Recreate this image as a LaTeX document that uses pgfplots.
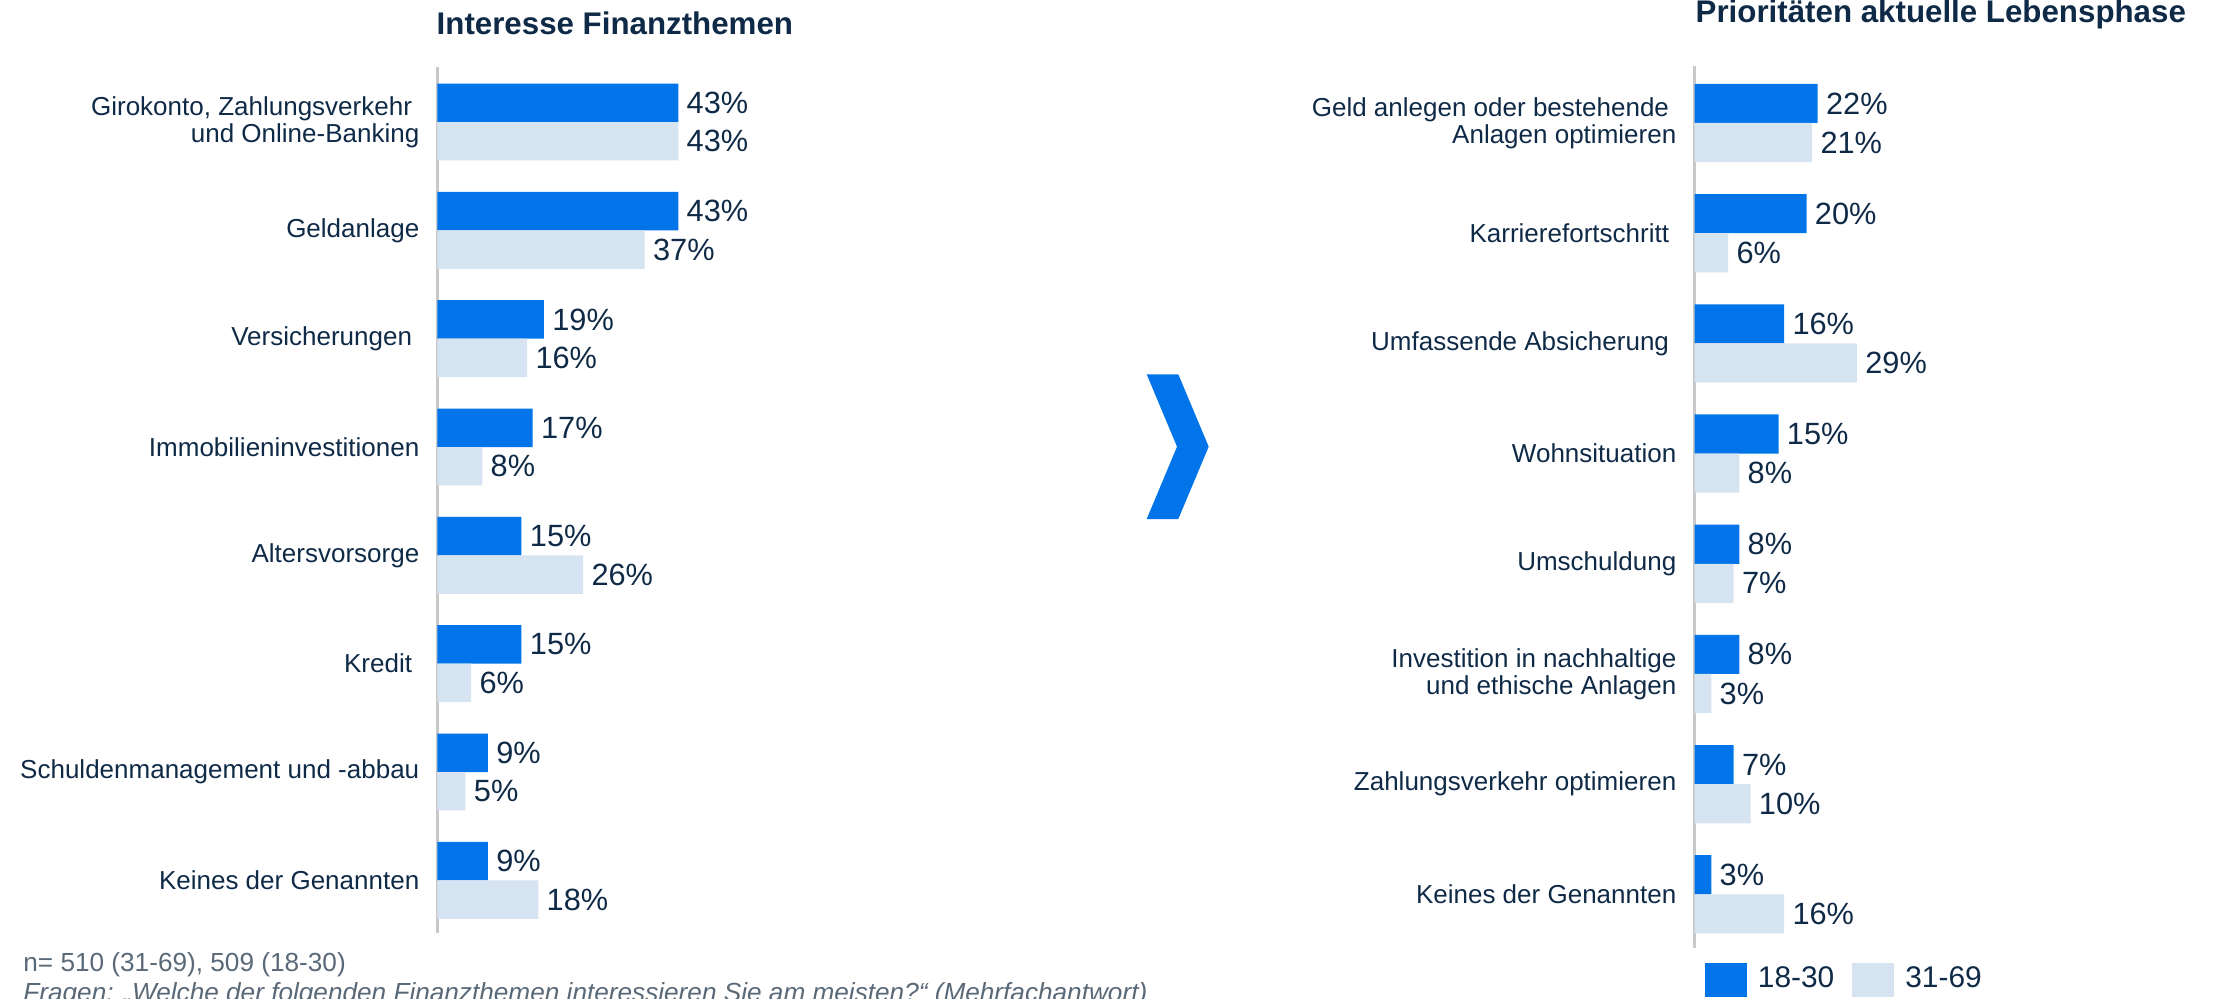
\documentclass[border=0pt]{standalone}
\usepackage{fontspec}
\setmainfont{Liberation Sans}
\usepackage{pgfplots}
\usepackage{pgfplotstable}
\pgfplotsset{compat=1.18}
\definecolor{cblue}{HTML}{0074E8}
\definecolor{clight}{HTML}{D6E3F0}
\definecolor{cnavy}{HTML}{0F2A47}
\definecolor{cgray}{HTML}{5A6978}
\definecolor{caxis}{HTML}{C8C8C8}

\pgfplotstableread{
idx a b
0 43 43
1 43 37
2 19 16
3 17 8
4 15 26
5 15 6
6 9 5
7 9 18
}\tabLeft

\pgfplotstableread{
idx a b
0 22 21
1 20 6
2 16 29
3 15 8
4 8 7
5 8 3
6 7 10
7 3 16
}\tabRight

\newcommand{\tsp}{\kern0.28em}

\pgfplotsset{
  mybars/.style={
    xbar, bar width=0.355, bar shift=0pt, scale only axis, width=3.36cm,
    xmin=0, xmax=60, y dir=reverse, ytick={0,...,7},
    axis x line=none, axis y line*=left,
    y axis line style={draw=caxis, line width=0.6pt, -},
    major tick length=0pt, ytick style={draw=none},
    yticklabel style={font=\fontsize{7.4}{7.7}\selectfont, text=cnavy, align=right, anchor=east, inner sep=0pt, xshift=-0.175cm},
    point meta=x,
    nodes near coords={\pgfmathprintnumber{\pgfplotspointmeta}\%},
    every node near coord/.append style={anchor=west, font=\fontsize{8.75}{9}\selectfont, text=cnavy, inner sep=2.2pt},
    /pgf/number format/assume math mode=true,
    clip=false,
  }
}

\begin{document}
\begin{tikzpicture}
\useasboundingbox (0,0) rectangle (22.13,-9.99);

% left chart
\begin{axis}[mybars, at={(4.375cm,-0.67cm)}, anchor=north west,
  height=8.66cm, ymin=-0.508, ymax=7.486,
  yticklabels={{Girokonto, Zahlungsverkehr\tsp\\und Online-Banking},Geldanlage,Versicherungen\tsp,Immobilieninvestitionen,Altersvorsorge,Kredit\tsp,Schuldenmanagement und -abbau,Keines der Genannten}]
\addplot[fill=cblue, draw=none, bar shift=0pt] table[x=a, y expr=\thisrow{idx}-0.1775] {\tabLeft};
\addplot[fill=clight, draw=none, bar shift=0pt] table[x=b, y expr=\thisrow{idx}+0.1775] {\tabLeft};
\end{axis}

% right chart
\begin{axis}[mybars, at={(16.945cm,-0.66cm)}, anchor=north west,
  height=8.82cm, ymin=-0.517, ymax=7.487,
  yticklabels={{Geld anlegen oder bestehende\tsp\\Anlagen optimieren},Karrierefortschritt\tsp,Umfassende Absicherung\tsp,Wohnsituation,Umschuldung,{Investition in nachhaltige\\und ethische Anlagen},Zahlungsverkehr optimieren,Keines der Genannten},
  legend columns=2,
  legend style={draw=none, fill=none, at={(axis description cs:0.029,-0.036)}, anchor=west,
    font=\fontsize{8.5}{9}\selectfont, text=cnavy, inner sep=0pt, nodes={inner sep=0pt},
    /tikz/every odd column/.append style={column sep=0.11cm},
    /tikz/every even column/.append style={column sep=0.18cm}},
  legend image code/.code={\fill[#1] (0cm,-0.17cm) rectangle (0.42cm,0.17cm);}]
\addplot[fill=cblue, draw=none, bar shift=0pt] table[x=a, y expr=\thisrow{idx}-0.1775] {\tabRight};
\addplot[fill=clight, draw=none, bar shift=0pt] table[x=b, y expr=\thisrow{idx}+0.1775] {\tabRight};
\legend{18-30,31-69}
\end{axis}

% titles
\node[anchor=base west, inner sep=0pt, text=cnavy, font=\fontsize{8.9}{9}\selectfont\bfseries] at (4.36,-0.343) {Interesse Finanzthemen};
\node[anchor=base west, inner sep=0pt, text=cnavy, font=\fontsize{8.9}{9}\selectfont\bfseries] at (16.95,-0.23) {Prioritäten aktuelle Lebensphase};

% chevron
\fill[cblue] (11.467,-3.743) -- (11.783,-3.743) -- (12.087,-4.467) -- (11.783,-5.19) -- (11.467,-5.19) -- (11.77,-4.467) -- cycle;

% footnote
\node[anchor=base west, inner sep=0pt, text=cgray, font=\fontsize{7.45}{8}\selectfont] at (0.227,-9.71) {n= 510 (31-69), 509 (18-30)};
\node[anchor=base west, inner sep=0pt, text=cgray, font=\fontsize{7.45}{8}\selectfont\itshape] at (0.227,-10.015) {Fragen: „Welche der folgenden Finanzthemen interessieren Sie am meisten?“ (Mehrfachantwort)};
\end{tikzpicture}
\end{document}
